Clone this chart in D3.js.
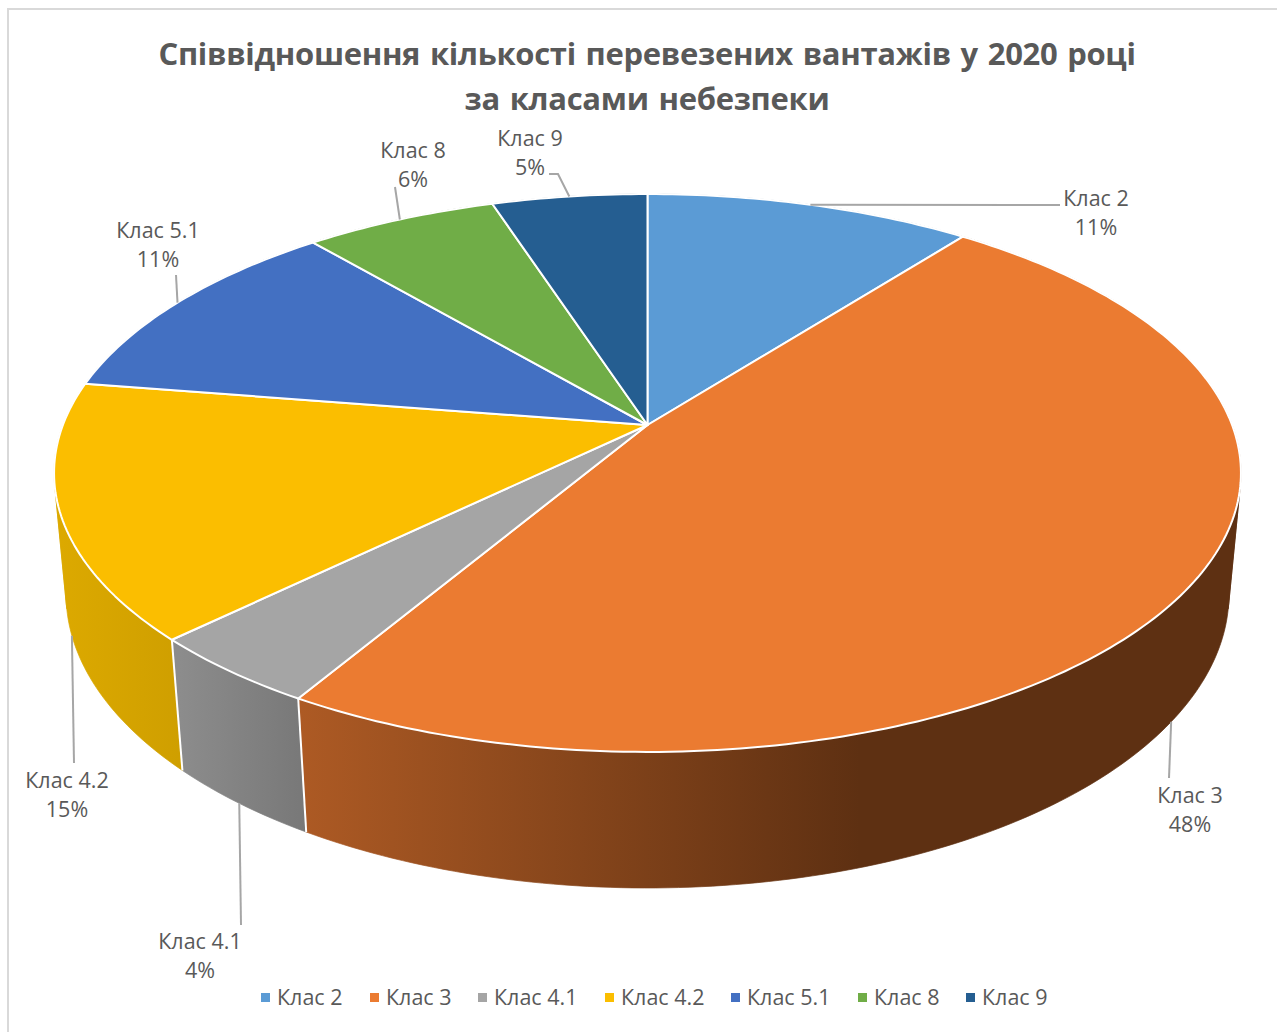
<!DOCTYPE html>
<html>
<head>
<meta charset="utf-8">
<script src="https://cdn.jsdelivr.net/npm/d3@7"></script>
<style>
  body { margin: 0; background: #fff; }
  text { font-family: "Open Sans", sans-serif; }
</style>
</head>
<body>
<div id="chart"></div>
<script>
const categories = ["Клас 2", "Клас 3", "Клас 4.1", "Клас 4.2", "Клас 5.1", "Клас 8", "Клас 9"];
const shares = [10.5, 48, 4.2, 14.8, 11.3, 6.2, 5];
const colors = ["#5B9BD5", "#EB7B31", "#A5A5A5", "#FBBE00", "#4370C2", "#70AD47", "#255E91"];
const titleLines = ["Співвідношення кількості перевезених вантажів у 2020 році", "за класами небезпеки"];

// label placement, one entry per category: centre x, first line y, where the leader ends
const labelX = [1096, 1190, 200, 67, 158, 413, 530];
const labelY = [206, 803, 949, 788, 238, 158, 146];
const leaderEnds = [[[1060, 205]], [[1169, 778]], [[241, 925]], [[74, 763]], [[176, 275]], [[395, 187]], [[558, 174], [549, 174]]];
const legendX = [261, 370, 478, 605, 731, 858, 966];

const width = 1277, height = 1032;

// perspective of the tilted disc; w = 0 is the top face, w = 1 the bottom one
const cx = 647.5, cy = 425;
const B = 584.6, A = 270.7, k = 0.172, C = 121.9, m = 0.02;

function project(angle, r, w) {
    const v = r * Math.sin(angle), u = -r * Math.cos(angle);
    const d = 1 - k * u + m * w;
    return [cx + B * v / d, cy + (A * u + C * w) / d];
}

function rim(a0, a1, w) {
    const n = Math.max(2, Math.ceil((a1 - a0) * 60));
    return d3.range(n + 1).map(i => project(a0 + (a1 - a0) * i / n, 1, w));
}

// angles where the wall turns away from the viewer, walls are cut there so they do not fold
const foldR = Math.PI / 2 + Math.asin(0.217);
const foldL = 2 * Math.PI - foldR;

function wallParts(d) {
    const cuts = [d.startAngle, d.endAngle];
    [foldR, foldL].forEach(f => { if (f > d.startAngle && f < d.endAngle) cuts.splice(cuts.length - 1, 0, f); });
    return d3.pairs(cuts).map(p => ({ a0: p[0], a1: p[1], index: d.index }));
}

const svg = d3.select("#chart").append("svg")
    .attr("width", width)
    .attr("height", height);

// chart frame, only top and left show in the picture
svg.append("path")
    .attr("d", `M8,${height} V9 H${width}`)
    .attr("fill", "none")
    .attr("stroke", "#D9D9D9")
    .attr("stroke-width", 2);

svg.append("g").selectAll("text")
    .data(titleLines)
    .join("text")
    .attr("x", 647)
    .attr("y", (d, i) => 65 + i * 45)
    .attr("text-anchor", "middle")
    .attr("font-size", 31)
    .attr("font-weight", 700)
    .attr("letter-spacing", -0.3)
    .attr("word-spacing", 2)
    .attr("fill", "#595959")
    .text(d => d);

const pie = d3.pie().sort(null).value(d => d).startAngle(0).endAngle(2 * Math.PI);
const slices = pie(shares);

const defs = svg.append("defs");
const wallStops = [
    [[300, "#AD5A24"], [860, "#5E3012"]],
    [[180, "#8C8C8C"], [305, "#787878"]],
    [[60, "#DCA900"], [180, "#CF9F00"]]
];
[1, 2, 3].forEach((idx, j) => {
    const stops = wallStops[j];
    const grad = defs.append("linearGradient")
        .attr("id", "wall" + idx)
        .attr("gradientUnits", "userSpaceOnUse")
        .attr("x1", stops[0][0]).attr("x2", stops[1][0])
        .attr("y1", 0).attr("y2", 0);
    stops.forEach((s, i) => grad.append("stop").attr("offset", i).attr("stop-color", s[1]));
});

const line = d3.line();
const wallFill = d => (d.index >= 1 && d.index <= 3) ? `url(#wall${d.index})` : d3.color(colors[d.index]).darker(1.5);

// side walls first, the top face hides whatever is behind it
svg.append("g").selectAll("path")
    .data(slices.flatMap(wallParts))
    .join("path")
    .attr("d", d => line(rim(d.a0, d.a1, 0).concat(rim(d.a0, d.a1, 1).reverse())) + "Z")
    .attr("fill", wallFill)
    .attr("stroke", wallFill)
    .attr("stroke-width", 0.7);

// white seams between the walls that face the viewer
svg.append("g").selectAll("path")
    .data(slices.filter(d => d.startAngle > foldR && d.startAngle < foldL))
    .join("path")
    .attr("d", d => line([project(d.startAngle, 1, 0), project(d.startAngle, 1, 1)]))
    .attr("stroke", "#fff")
    .attr("stroke-width", 2);

svg.append("g").selectAll("path")
    .data(slices)
    .join("path")
    .attr("d", d => line([[cx, cy]].concat(rim(d.startAngle, d.endAngle, 0))) + "Z")
    .attr("fill", (d, i) => colors[i])
    .attr("stroke", "#fff")
    .attr("stroke-width", 2)
    .attr("stroke-linejoin", "round");

// leaders start on the rim at the middle of each slice
const isNear = d => -Math.cos((d.startAngle + d.endAngle) / 2) > 0;
svg.append("g").selectAll("path")
    .data(slices)
    .join("path")
    .attr("d", (d, i) => {
        const mid = (d.startAngle + d.endAngle) / 2;
        return line([project(mid, 1, isNear(d) ? 1 : 0)].concat(leaderEnds[i]));
    })
    .attr("fill", "none")
    .attr("stroke", "#A6A6A6")
    .attr("stroke-width", 2);

const labels = svg.append("g").selectAll("text")
    .data(slices)
    .join("text")
    .attr("text-anchor", "middle")
    .attr("font-size", 21.5)
    .attr("fill", "#595959");
labels.append("tspan")
    .attr("x", (d, i) => labelX[i])
    .attr("y", (d, i) => labelY[i])
    .text((d, i) => categories[i]);
labels.append("tspan")
    .attr("x", (d, i) => labelX[i])
    .attr("y", (d, i) => labelY[i] + 29)
    .text(d => Math.round(d.value) + "%");

const legend = svg.append("g").selectAll("g")
    .data(categories)
    .join("g")
    .attr("transform", (d, i) => `translate(${legendX[i]},997)`);
legend.append("rect")
    .attr("x", 0).attr("y", -4)
    .attr("width", 9).attr("height", 9)
    .attr("fill", (d, i) => colors[i]);
legend.append("text")
    .attr("x", 16).attr("y", 8)
    .attr("font-size", 21.5)
    .attr("fill", "#595959")
    .text(d => d);
</script>
</body>
</html>
